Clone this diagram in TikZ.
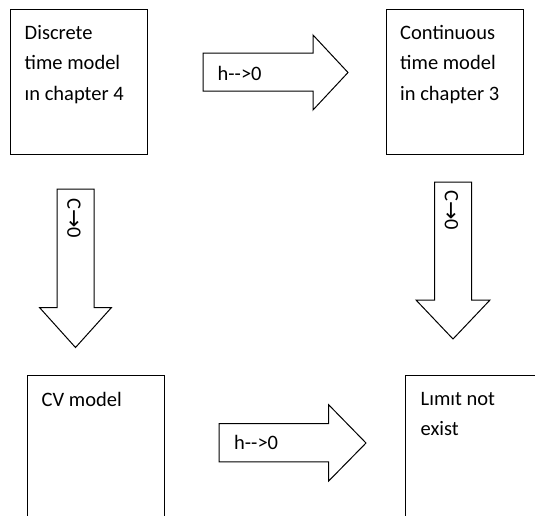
\documentclass[tikz,border=0pt]{standalone}
\usepackage{fontspec}
\setmainfont{Carlito}
\newfontfamily\arrowfont{DejaVu Sans}
\usetikzlibrary{positioning}

\begin{document}
\begin{tikzpicture}[
            x=1pt, y=-1pt,
            font=\fontsize{20.5}{30.5}\selectfont,
            box/.style={rectangle, draw, line width=1pt, inner sep=0pt, anchor=north west, minimum width=137pt, minimum height=145.5pt},
            tallbox/.style={box, minimum height=160pt},
            boxtext/.style={align=left, inner sep=0pt},
            blockarrow/.style={draw, line width=1pt, line join=miter},
            arrowtext/.style={inner sep=0pt}
        ]
        \useasboundingbox (0,0) rectangle (535,515);
        \clip (0,0) rectangle (535,515);
        % boxes
        \node[box] (discrete) at (10,8.5) {};
        \node[box] (continuous) at (386,8.5) {};
        \node[tallbox] (cvmodel) at (27,375) {};
        \node[tallbox] (limit) at (405,375) {};
        \node[boxtext, below right=16.5pt and 14.5pt of discrete.north west] (discretetext) {Discrete\\time model\\ın chapter 4};
        \node[boxtext, below right=16.5pt and 14pt of continuous.north west] (continuoustext) {Continuous\\time model\\in chapter 3};
        \node[boxtext, below right=17pt and 14.5pt of cvmodel.north west] (cvtext) {CV model};
        \node[boxtext, below right=17pt and 15.5pt of limit.north west] (limittext) {Lımıt not\\exist};
        % block arrows
        \draw[blockarrow] (203,53) -- (313,53) -- (313,35) -- (348,72.5) -- (313,110) -- (313,91) -- (203,91) -- cycle;
        \node[arrowtext, anchor=base west] (htop) at (217.5,80) {h-{}->0};
        \draw[blockarrow] (219,423.6) -- (328.7,423.6) -- (328.7,404.8) -- (366,443) -- (328.7,481) -- (328.7,461.8) -- (219,461.8) -- cycle;
        \node[arrowtext, anchor=base west] (hbottom) at (234,449.5) {h-{}->0};
        \draw[blockarrow] (57,189) -- (94,189) -- (94,307.5) -- (111.5,307.5) -- (75.5,347.5) -- (39.5,307.5) -- (57,307.5) -- cycle;
        \node[arrowtext, rotate=-90, anchor=west] (cleft) at (74,198) {C{\arrowfont\fontsize{22}{22}\selectfont →}0};
        \draw[blockarrow] (434.5,182) -- (471.7,182) -- (471.7,300) -- (490,300) -- (453,339) -- (416,300) -- (434.5,300) -- cycle;
        \node[arrowtext, rotate=-90, anchor=west] (cright) at (451.5,190) {C{\arrowfont\fontsize{22}{22}\selectfont →}0};
\end{tikzpicture}
\end{document}
